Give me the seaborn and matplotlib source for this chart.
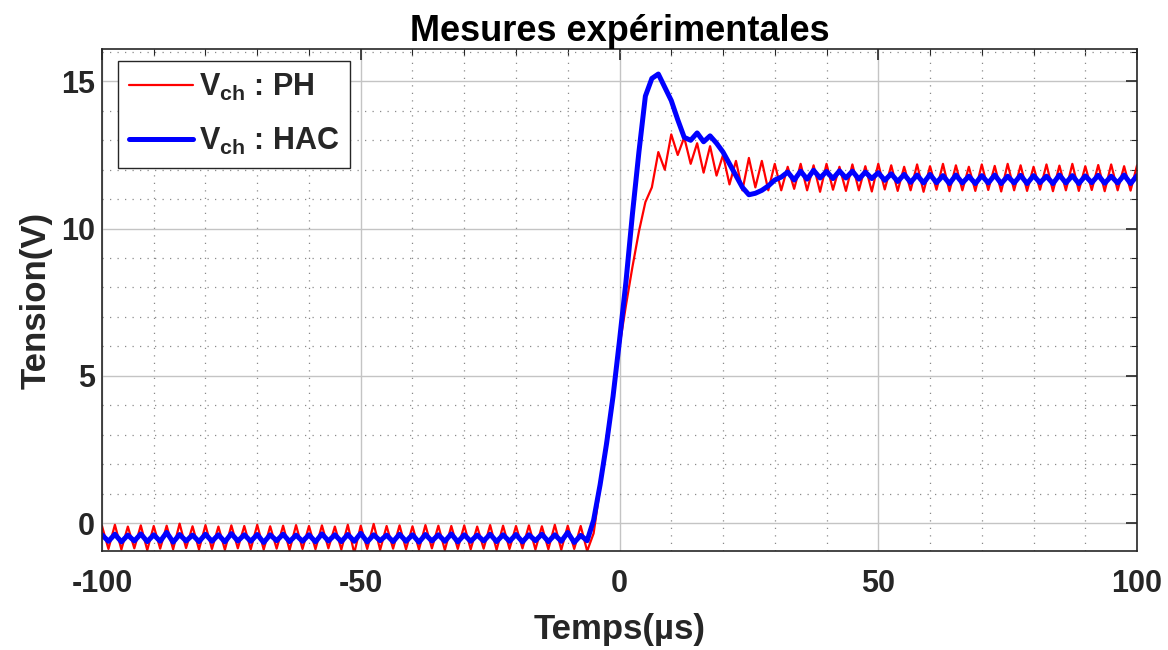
import numpy as np
import pandas as pd
import matplotlib
matplotlib.use("Agg")
import matplotlib.pyplot as plt
import seaborn as sns
from matplotlib.ticker import MultipleLocator

# sample times (us), one sample every 1.25 us from -100 to 100
temps = np.linspace(-100, 100, 161)

# V_ch : PH (red)
v_ph = [
    -0.10, -0.88, -0.06, -0.90, -0.12, -0.86, -0.08, -0.92,
    -0.10, -0.87, -0.09, -0.89, -0.02, -0.85, -0.11, -0.90,
    -0.07, -0.88, -0.12, -0.91, -0.08, -0.86, -0.10, -0.89,
    -0.06, -0.90, -0.11, -0.87, -0.09, -0.92, -0.07, -0.88,
    -0.10, -0.89, -0.08, -0.86, -0.12, -0.90, -0.06, -1.02,
    -0.09, -0.88, -0.03, -0.91, -0.10, -0.87, -0.08, -0.89,
    -0.11, -0.90, -0.07, -0.86, -0.09, -0.92, -0.10, -0.88,
    -0.08, -0.89, -0.12, -0.87, -0.07, -0.91, -0.09, -0.88,
    -0.10, -0.86, -0.08, -0.90, -0.11, -0.89, -0.06, -0.91,
    -0.09, -0.88, -0.10,
    -0.95, -0.35, 1.20, 2.90, 4.30, 6.00, 7.40, 8.70,
    9.90, 10.90, 11.40, 12.60, 12.00, 13.20, 12.50, 13.10,
    12.20, 12.90, 11.90, 12.80, 11.80, 12.50, 11.50, 12.30,
    11.30, 12.40, 11.40, 12.30, 11.30, 12.20, 11.30,
    12.10, 11.35, 12.20, 11.30, 12.15, 11.25, 12.20, 11.32,
    12.10, 11.28, 12.18, 11.30, 12.12, 11.26, 12.20, 11.33,
    12.15, 11.28, 12.10, 11.30, 12.18, 11.25, 12.12, 11.32,
    12.20, 11.27, 12.15, 11.30, 12.10, 11.28, 12.18, 11.31,
    12.13, 11.26, 12.20, 11.30, 12.15, 11.28, 12.10, 11.32,
    12.18, 11.27, 12.14, 11.30, 12.20, 11.28, 12.12, 11.31,
    12.16, 11.27, 12.18, 11.30, 12.12, 11.29, 12.15,
]

# V_ch : HAC (blue)
v_hac = [
    -0.40, -0.62, -0.38, -0.64, -0.41, -0.61, -0.37, -0.63,
    -0.40, -0.62, -0.32, -0.65, -0.39, -0.61, -0.41, -0.63,
    -0.38, -0.62, -0.40, -0.64, -0.36, -0.61, -0.40, -0.62,
    -0.39, -0.66, -0.40, -0.60, -0.38, -0.63, -0.41, -0.62,
    -0.40, -0.64, -0.37, -0.61, -0.40, -0.63, -0.39, -0.62,
    -0.35, -0.64, -0.40, -0.60, -0.41, -0.63, -0.38, -0.62,
    -0.40, -0.65, -0.39, -0.61, -0.40, -0.62, -0.37, -0.64,
    -0.40, -0.62, -0.41, -0.61, -0.38, -0.63, -0.40, -0.62,
    -0.39, -0.64, -0.40, -0.60, -0.38, -0.63, -0.40, -0.62,
    -0.32, -0.66, -0.42,
    -0.60, 0.10, 1.30, 2.70, 4.30, 6.20, 8.20, 10.50,
    12.60, 14.50, 15.10, 15.25, 14.80, 14.35, 13.70, 13.10,
    13.00, 13.25, 12.95, 13.15, 12.90, 12.60, 12.20, 11.80,
    11.40, 11.15, 11.20, 11.30, 11.45, 11.65, 11.75,
    11.92, 11.65, 11.95, 11.68, 11.98, 11.72, 11.94, 11.70,
    11.96, 11.72, 11.95, 11.68, 11.92, 11.70, 11.90, 11.64,
    11.86, 11.60, 11.84, 11.57, 11.82, 11.55, 11.84, 11.56,
    11.80, 11.53, 11.82, 11.55, 11.78, 11.53, 11.80, 11.55,
    11.82, 11.53, 11.78, 11.55, 11.81, 11.53, 11.80, 11.56,
    11.78, 11.53, 11.82, 11.55, 11.80, 11.53, 11.79, 11.56,
    11.81, 11.54, 11.78, 11.55, 11.82, 11.53, 11.80,
]

df_ph = pd.DataFrame({"Temps": temps, "Tension": v_ph})
df_hac = pd.DataFrame({"Temps": temps, "Tension": v_hac})

sns.set_theme(style="white")
plt.rcParams["font.family"] = ["Liberation Sans", "DejaVu Sans"]
plt.rcParams["font.weight"] = "bold"
plt.rcParams["axes.unicode_minus"] = False
plt.rcParams["mathtext.fontset"] = "custom"
plt.rcParams["mathtext.rm"] = "Liberation Sans:bold"
plt.rcParams["mathtext.bf"] = "Liberation Sans:bold"
plt.rcParams["mathtext.it"] = "Liberation Sans:bold"

fig = plt.figure(figsize=(11.68, 6.5), dpi=100)
ax = fig.add_axes([0.0873, 0.1523, 0.9735 - 0.0873, 0.9246 - 0.1523])

sns.lineplot(data=df_ph, x="Temps", y="Tension", ax=ax, color="#ff0000",
             linewidth=1.6, sort=False, estimator=None, label=r"$V_{ch}$ : PH")
sns.lineplot(data=df_hac, x="Temps", y="Tension", ax=ax, color="#0000ff",
             linewidth=3.6, sort=False, estimator=None, label=r"$V_{ch}$ : HAC")

ax.set_xlim(-100, 100)
ax.set_ylim(-0.95, 16.1)
ax.xaxis.set_major_locator(MultipleLocator(50))
ax.xaxis.set_minor_locator(MultipleLocator(10))
ax.yaxis.set_major_locator(MultipleLocator(5))
ax.yaxis.set_minor_locator(MultipleLocator(1))

ax.grid(True, which="major", color="#c4c4c4", linestyle="-", linewidth=1.0)
ax.grid(True, which="minor", color="#8a8a8a", linestyle=(0, (1, 5)), linewidth=0.9)
ax.set_axisbelow(True)

ax.tick_params(which="both", direction="in", top=True, right=True,
               colors="#262626", labelcolor="#262626")
ax.tick_params(which="major", length=8, width=1.2, labelsize=22)
ax.tick_params(axis="x", which="major", pad=13)
ax.tick_params(axis="y", which="major", pad=5)
ax.tick_params(which="minor", length=4, width=0.8)
for lab in ax.get_xticklabels() + ax.get_yticklabels():
    lab.set_fontweight("bold")
for s in ax.spines.values():
    s.set_color("#262626")
    s.set_linewidth(1.2)

ax.set_xlabel("Temps(µs)", fontsize=25, fontweight="bold", color="#262626", labelpad=10)
ax.set_ylabel("Tension(V)", fontsize=25, fontweight="bold", color="#262626", labelpad=6)
ax.set_title("Mesures expérimentales", fontsize=26, fontweight="bold", color="black", pad=6)

leg = ax.legend(loc="upper left", bbox_to_anchor=(0.0155, 0.976), borderaxespad=0,
                fontsize=22, frameon=True, fancybox=False, framealpha=1,
                edgecolor="#262626", handlelength=2.1, handletextpad=0.2,
                borderpad=0.35, labelspacing=0.75)
leg.get_frame().set_linewidth(1.0)

fig.savefig("out.png", dpi=100, facecolor="white")
